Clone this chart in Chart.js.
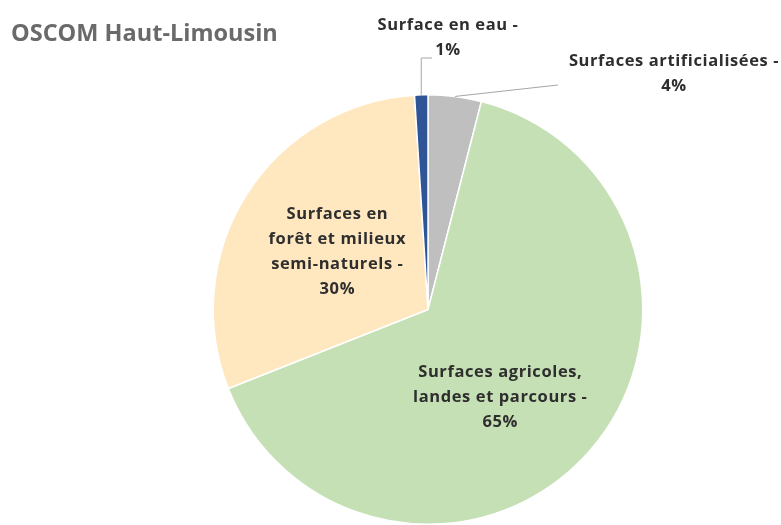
<!DOCTYPE html>
<html>
<head>
<meta charset="utf-8">
<title>OSCOM Haut-Limousin</title>
<script src="https://cdn.jsdelivr.net/npm/chart.js@4.4.1/dist/chart.umd.min.js"></script>
<style>
  html, body { margin: 0; padding: 0; background: #ffffff; }
  #wrap { width: 781px; height: 525px; position: relative; }
</style>
</head>
<body>
<div id="wrap"><canvas id="occupationChart" width="781" height="525"></canvas></div>
<script>
// Occupation des sols, en % de la surface
const categories = [
	'Surfaces artificialisées',
	'Surfaces agricoles, landes et parcours',
	'Surfaces en forêt et milieux semi-naturels',
	'Surface en eau'
];
const parts = [4, 65, 30, 1];
const sliceColors = ['#bfbfbf', '#c5e0b4', '#ffe8c0', '#2f5597'];

// texte des étiquettes, une entrée par ligne
const labelLines = [
	['Surfaces artificialisées -', '4%'],
	['Surfaces agricoles,', 'landes et parcours -', '65%'],
	['Surfaces en', 'forêt et milieux', 'semi-naturels -', '30%'],
	['Surface en eau -', '1%']
];

// étiquettes + lignes de rappel
const pieLabels = {
	id: 'pieLabels',
	afterDatasetsDraw(chart, args, opts) {
		const ctx = chart.ctx;
		const arcs = chart.getDatasetMeta(0).data;
		ctx.save();

		// titre
		ctx.font = opts.titleFont;
		ctx.fillStyle = '#6a6a6a';
		ctx.textAlign = 'left';
		ctx.textBaseline = 'middle';
		ctx.fillText(opts.title, 11, 34);

		ctx.font = opts.font;
		ctx.fillStyle = '#2e2e2e';
		ctx.textAlign = 'center';
		ctx.letterSpacing = opts.spacing;

		arcs.forEach((arc, i) => {
			const p = arc.getProps(['x', 'y', 'startAngle', 'endAngle', 'outerRadius'], true);
			const mid = (p.startAngle + p.endAngle) / 2;
			const place = opts.places[i];
			let cx, cy;
			if (place.inside) {
				const a = mid + place.shift;
				cx = p.x + Math.cos(a) * p.outerRadius * place.r;
				cy = p.y + Math.sin(a) * p.outerRadius * place.r;
			} else {
				cx = place.x;
				cy = place.y;
				// point d'accroche sur le bord du secteur
				const ex = p.x + Math.cos(mid) * p.outerRadius;
				const ey = p.y + Math.sin(mid) * p.outerRadius;
				ctx.strokeStyle = '#a6a6a6';
				ctx.lineWidth = 1;
				ctx.beginPath();
				ctx.moveTo(ex, ey);
				place.line.forEach(pt => ctx.lineTo(pt[0] === null ? ex : pt[0], pt[1]));
				ctx.stroke();
			}
			const lines = labelLines[i];
			const top = cy - (lines.length - 1) * opts.lineHeight / 2;
			lines.forEach((t, k) => ctx.fillText(t, cx, top + k * opts.lineHeight));
		});
		ctx.restore();
	}
};

new Chart(document.getElementById('occupationChart'), {
	type: 'pie',
	data: {
		labels: categories,
		datasets: [{
			data: parts,
			backgroundColor: sliceColors,
			borderColor: '#ffffff',
			borderWidth: 1.5
		}]
	},
	options: {
		responsive: false,
		animation: false,
		layout: { padding: { top: 94, bottom: 0, left: 212, right: 137 } },
		plugins: {
			legend: { display: false },
			tooltip: { enabled: false },
			pieLabels: {
				title: 'OSCOM Haut-Limousin',
				titleFont: 'bold 23.5px "Open Sans"',
				font: 'bold 16.5px "Open Sans"',
				spacing: '0.6px',
				lineHeight: 25,
				places: [
					{ inside: false, x: 674, y: 74, line: [[558, 85]] },
					{ inside: true, r: 0.53, shift: 0.16 },
					{ inside: true, r: 0.5, shift: 0 },
					{ inside: false, x: 448, y: 37.5, line: [[null, 58], [432, 58]] }
				]
			}
		}
	},
	plugins: [pieLabels]
});
</script>
</body>
</html>
